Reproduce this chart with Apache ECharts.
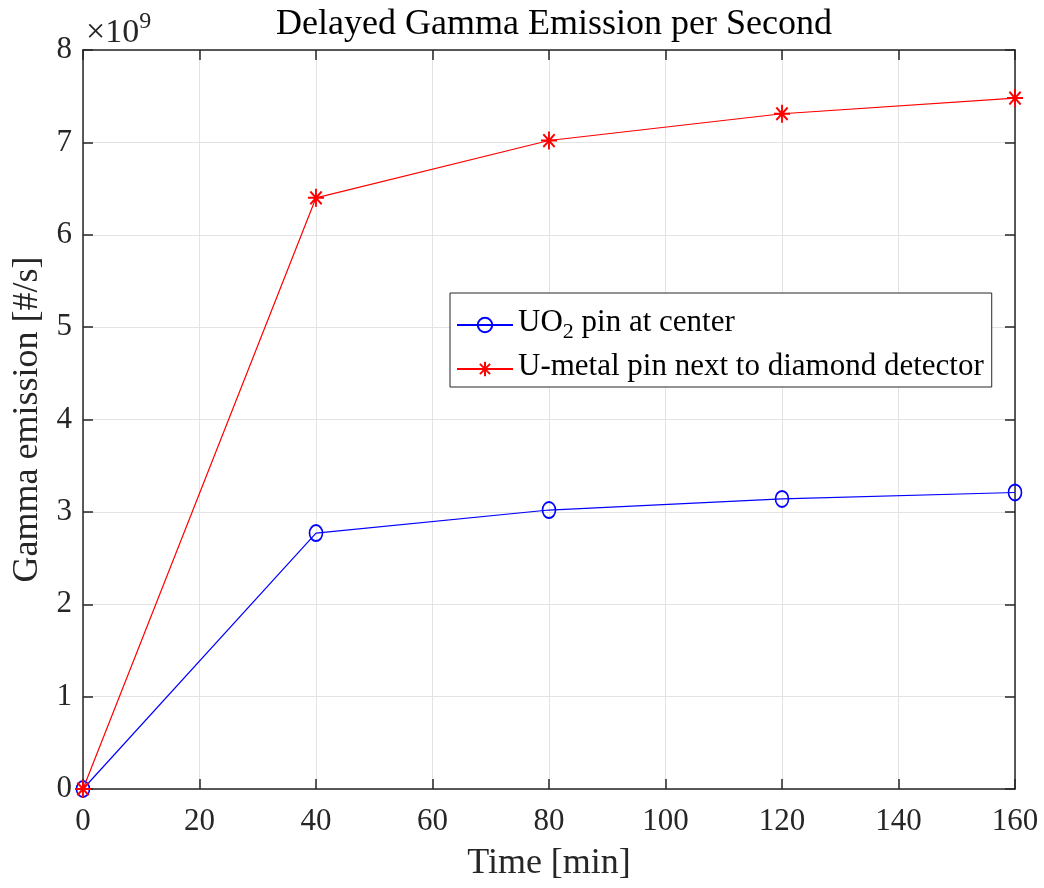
<!DOCTYPE html>
<html>
<head>
<meta charset="utf-8">
<script src="https://cdn.jsdelivr.net/npm/echarts@6/dist/echarts.min.js"></script>
<style>
html,body{margin:0;padding:0;background:#fff;}
#chart{width:1044px;height:888px;}
</style>
</head>
<body>
<div id="chart"></div>
<script>
const times = [0, 40, 80, 120, 160];
const uo2Values = [0, 2.77, 3.02, 3.14, 3.21];
const uMetalValues = [0, 6.40, 7.02, 7.31, 7.48];
const seriesNames = ['UO2 pin at center', 'U-metal pin next to diamond detector'];
const xTicks = [0, 20, 40, 60, 80, 100, 120, 140, 160];
const yTicks = [0, 1, 2, 3, 4, 5, 6, 7, 8];

const FONT = '"Liberation Serif", "Times New Roman", serif';
const AX = '#262626';
const asterisk = 'path://M0,-10L0,10M-10,0L10,0M-7.07,-7.07L7.07,7.07M-7.07,7.07L7.07,-7.07';

const chart = echarts.init(document.getElementById('chart'));
const baseAxis = {
  axisLine: {show: true, onZero: false, lineStyle: {color: AX, width: 1.5}},
  axisTick: {show: true, inside: true, length: 10, lineStyle: {color: AX, width: 1.5}},
  axisLabel: {color: AX, fontFamily: FONT, fontSize: 31},
};
chart.setOption({
  animation: false,
  title: {
    text: 'Delayed Gamma Emission per Second',
    left: 549, top: 2, textAlign: 'center',
    textStyle: {fontFamily: FONT, fontSize: 36, fontWeight: 'normal', color: '#000'}
  },
  grid: {left: 83, right: 29, top: 50, bottom: 99, containLabel: false},
  xAxis: [
    Object.assign({}, baseAxis, {
      type: 'value', min: 0, max: 160, interval: 20, position: 'bottom',
      name: 'Time [min]', nameLocation: 'middle', nameGap: 57,
      nameTextStyle: {fontFamily: FONT, fontSize: 36, color: AX},
      axisLabel: Object.assign({}, baseAxis.axisLabel, {margin: 17,
        formatter: v => xTicks.includes(v) ? String(v) : ''}),
      splitLine: {show: true, lineStyle: {color: '#e3e3e3', width: 1}}
    }),
    Object.assign({}, baseAxis, {
      type: 'value', min: 0, max: 160, interval: 20, position: 'top',
      axisLabel: {show: false}, splitLine: {show: false}
    })
  ],
  yAxis: [
    Object.assign({}, baseAxis, {
      type: 'value', min: 0, max: 8, interval: 1, position: 'left',
      name: 'Gamma emission [#/s]', nameLocation: 'middle', nameGap: 31,
      nameTextStyle: {fontFamily: FONT, fontSize: 36, color: AX},
      axisLabel: Object.assign({}, baseAxis.axisLabel, {margin: 11,
        formatter: v => yTicks.includes(v) ? String(v) : ''}),
      splitLine: {show: true, lineStyle: {color: '#e3e3e3', width: 1}}
    }),
    Object.assign({}, baseAxis, {
      type: 'value', min: 0, max: 8, interval: 1, position: 'right',
      axisLabel: {show: false}, splitLine: {show: false}
    })
  ],
  legend: {
    orient: 'vertical', left: 450, top: 293,
    padding: [8, 8, 5, 6],
    itemGap: 8, itemWidth: 56, itemHeight: 18,
    backgroundColor: '#fff', borderColor: AX, borderWidth: 1, borderRadius: 0,
    data: seriesNames,
    formatter: function (n) {
      if (n === seriesNames[0]) return '{a|UO}{s|2}{a| pin at center}';
      return '{a|' + n + '}';
    },
    textStyle: {
      fontFamily: FONT, fontSize: 31, color: '#000',
      rich: {
        a: {fontFamily: FONT, fontSize: 31, color: '#000', lineHeight: 36, verticalAlign: 'top'},
        s: {fontFamily: FONT, fontSize: 22, color: '#000', lineHeight: 22, verticalAlign: 'bottom', padding: [20, 0, 0, 0]}
      }
    }
  },
  graphic: [{
    type: 'text', left: 86, top: 10, silent: true,
    style: {
      text: '{a|×10}{b|9}',
      rich: {
        a: {fontFamily: FONT, fontSize: 34, fill: AX, lineHeight: 40, verticalAlign: 'bottom'},
        b: {fontFamily: FONT, fontSize: 24, fill: AX, lineHeight: 24, verticalAlign: 'top'}
      }
    }
  }],
  series: [
    {
      name: seriesNames[0], type: 'line',
      data: times.map((t, i) => [t, uo2Values[i]]),
      color: '#0000ff',
      lineStyle: {color: '#0000ff', width: 1.2},
      symbol: 'circle', symbolSize: [13, 16],
      itemStyle: {color: 'rgba(0,0,0,0)', borderColor: '#0000ff', borderWidth: 1.8},
      clip: false, z: 3
    },
    {
      name: seriesNames[1], type: 'line',
      data: times.map((t, i) => [t, uMetalValues[i]]),
      color: '#ff0000',
      lineStyle: {color: '#ff0000', width: 1.2},
      symbol: asterisk, symbolSize: [16, 18], symbolKeepAspect: false,
      itemStyle: {color: 'rgba(0,0,0,0)', borderColor: '#ff0000', borderWidth: 2},
      clip: false, z: 4
    }
  ]
});
</script>
</body>
</html>
